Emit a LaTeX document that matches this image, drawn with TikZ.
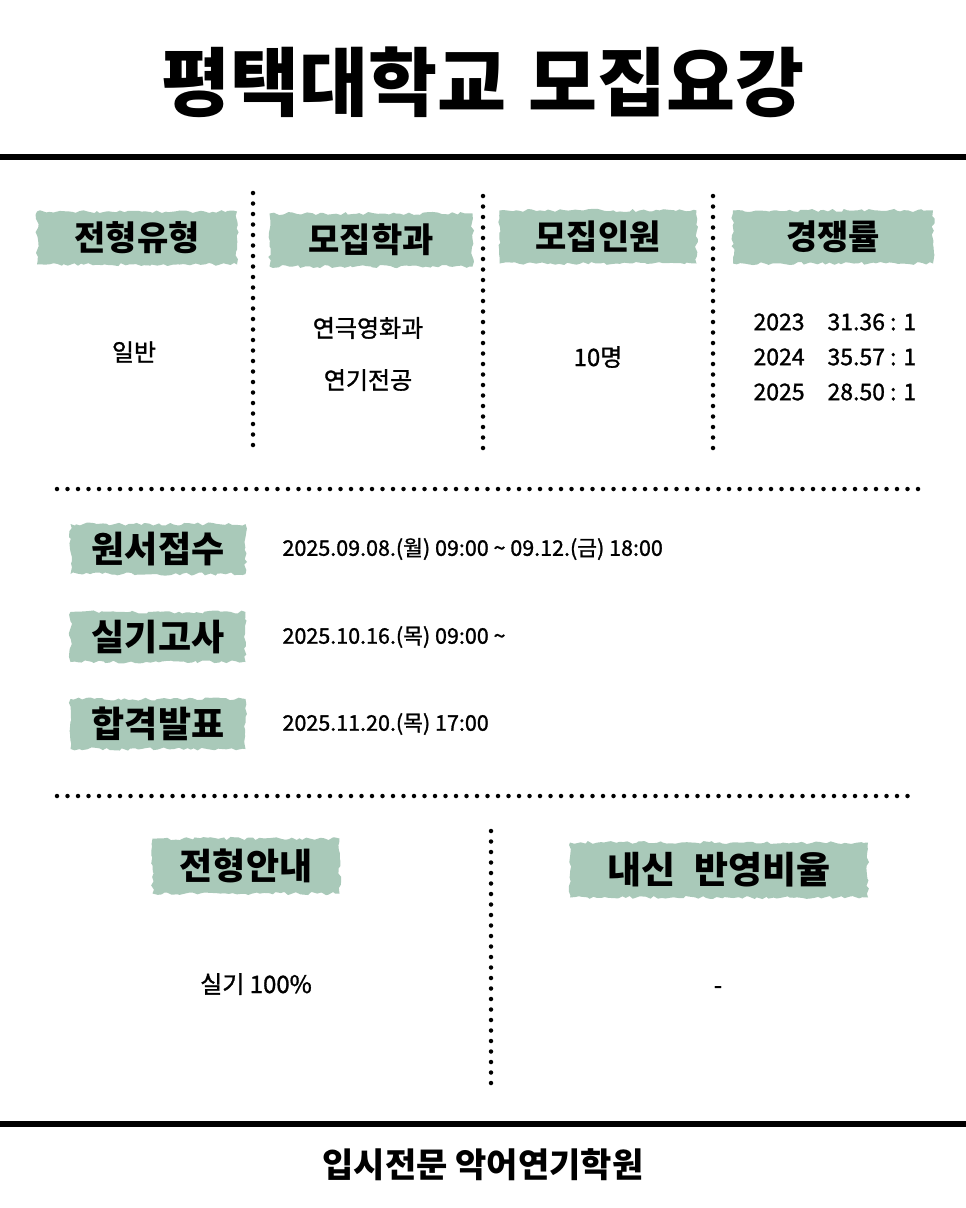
\documentclass[tikz,border=0pt]{standalone}
\usepackage{fontspec}
\setmainfont{Noto Sans CJK KR}
\newfontfamily\medium[FakeBold=1.2]{Noto Sans CJK KR}
\usetikzlibrary{decorations.pathmorphing}
\definecolor{sage}{HTML}{A9C9B9}

\begin{document}
\begin{tikzpicture}[x=1pt,y=-1pt,
  brush/.style={fill=sage, inner sep=0pt, decorate,
    decoration={random steps, segment length=4pt, amplitude=1.6pt}},
  head/.style={font=\fontsize{34}{34}\selectfont\bfseries},
  body/.style={font=\fontsize{24}{24}\selectfont\medium},
  date/.style={font=\fontsize{21.5}{21.5}\selectfont\medium, anchor=west},
  dotline/.style={line width=4.5pt, line cap=round, dash pattern=on 0pt off 10.5pt},
  bar/.style={line width=6pt}]
\useasboundingbox[fill=white] (0,0) rectangle (966,1208);

\node[font=\fontsize{75}{75}\selectfont\bfseries] (title) at (483,82) {평택대학교\hspace{0.3em}모집요강};
\draw[bar] (0,157) -- (966,157);

\node[brush, head, minimum width=200, minimum height=53] (type) at (137,238) {전형유형};
\node[brush, head, minimum width=203, minimum height=53] (dept) at (371,240) {모집학과};
\node[brush, head, minimum width=197, minimum height=53] (quota) at (598,237) {모집인원};
\node[brush, head, minimum width=200, minimum height=53] (rate) at (833,237) {경쟁률};

\draw[dotline] (253,193) -- (253,452);
\draw[dotline] (483,196) -- (483,455);
\draw[dotline] (713,196) -- (713,455);

\node[body] (general) at (134,352) {일반};
\node[body] (theatre) at (368,328) {연극영화과};
\node[body] (acting) at (368,380) {연기전공};
\node[body] (ten) at (598,357) {10명};

\node[body, font=\fontsize{23}{23}\selectfont\medium, anchor=west] (y23) at (750,322) {2023};
\node[body, font=\fontsize{23}{23}\selectfont\medium, anchor=west] (r23) at (824,322) {31.36 : 1};
\node[body, font=\fontsize{23}{23}\selectfont\medium, anchor=west] (y24) at (750,357) {2024};
\node[body, font=\fontsize{23}{23}\selectfont\medium, anchor=west] (r24) at (824,357) {35.57 : 1};
\node[body, font=\fontsize{23}{23}\selectfont\medium, anchor=west] (y25) at (750,392) {2025};
\node[body, font=\fontsize{23}{23}\selectfont\medium, anchor=west] (r25) at (824,392) {28.50 : 1};

\draw[dotline] (57,489) -- (918,489);

\node[brush, head, font=\fontsize{36}{36}\selectfont\bfseries, minimum width=175, minimum height=50] (apply) at (158,549) {원서접수};
\node[brush, head, font=\fontsize{36}{36}\selectfont\bfseries, minimum width=175, minimum height=50] (exam) at (158,637) {실기고사};
\node[brush, head, font=\fontsize{36}{36}\selectfont\bfseries, minimum width=175, minimum height=50] (result) at (158,724) {합격발표};

\node[date] (applyd) at (279,549) {2025.09.08.(월) 09:00 \char`\~{} 09.12.(금) 18:00};
\node[date] (examd) at (279,637) {2025.10.16.(목) 09:00 \char`\~};
\node[date] (resultd) at (279,724) {2025.11.20.(목) 17:00};

\draw[dotline] (57,796) -- (915,796);

\node[brush, head, font=\fontsize{36}{36}\selectfont\bfseries, minimum width=187, minimum height=55] (guide) at (246,866) {전형안내};
\node[brush, head, font=\fontsize{37}{37}\selectfont\bfseries, minimum width=298, minimum height=55] (grade) at (719,870) {내신\hspace{0.5em}반영비율};

\draw[dotline] (491,831) -- (491,1088);

\node[body] (practical) at (256,984) {실기 100\%};
\node[body] (none) at (718,990) {-};

\draw[bar] (0,1124) -- (966,1124);
\node[font=\fontsize{34}{34}\selectfont\bfseries] (academy) at (483,1165) {입시전문 악어연기학원};

\end{tikzpicture}
\end{document}
